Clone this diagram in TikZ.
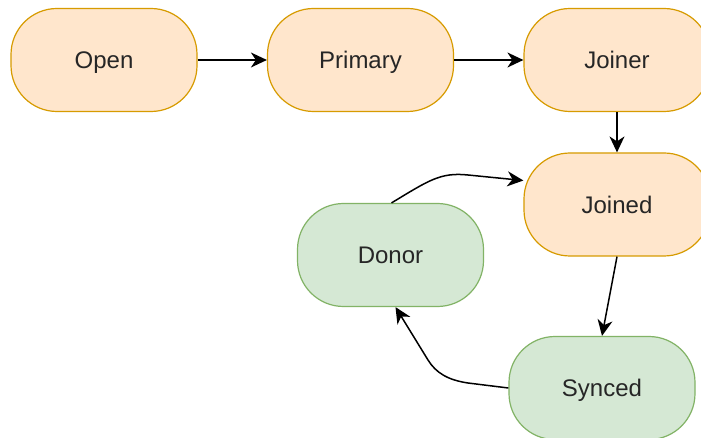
\documentclass[tikz,border=0pt]{standalone}
\usepackage{fontspec}
\setmainfont{Liberation Sans}
\usetikzlibrary{arrows.meta}
\definecolor{warmfill}{HTML}{FFE6CC}
\definecolor{warmline}{HTML}{D79B00}
\definecolor{coolfill}{HTML}{D5E8D4}
\definecolor{coolline}{HTML}{82B366}
\tikzset{
  state/.style={draw, line width=1.2pt, rounded corners=46pt,
    minimum width=186pt, minimum height=103pt, inner sep=0pt,
    text height=17.5pt, text depth=0pt,
    font=\fontsize{24}{28}\selectfont, text=black!85},
  warm/.style={state, fill=warmfill, draw=warmline},
  cool/.style={state, fill=coolfill, draw=coolline},
  flow/.style={draw=black, line width=1.5pt,
    -{Stealth[length=16pt, width=15pt, inset=5pt]}}
}
\begin{document}
\begin{tikzpicture}[x=1pt, y=-1pt]
  \useasboundingbox (0,0) rectangle (701,438);
  \clip (0,0) rectangle (701,438);
  \fill[white] (0,0) rectangle (701,438);

  \node[warm] (open)    at (104,60)    {Open};
  \node[warm] (primary) at (360.5,60)  {Primary};
  \node[warm] (joiner)  at (617,60)    {Joiner};
  \node[warm] (joined)  at (617,204.5) {Joined};
  \node[cool] (donor)   at (390.5,255) {Donor};
  \node[cool] (synced)  at (602,388)   {Synced};

  \draw[flow] (open) -- (primary);
  \draw[flow] (primary) -- (joiner);
  \draw[flow] (joiner) -- (joined);
  \draw[flow] (joined.south) -- (synced.north);
  \draw[flow] (synced.west) -- (468,383) .. controls (448,380) and (436,373) .. (428,360)
    -- ([xshift=5pt]donor.south);
  \draw[flow] ([xshift=1pt]donor.north) .. controls (428,181) and (440,172) .. (468,175)
    -- ([yshift=24pt]joined.west);
\end{tikzpicture}
\end{document}
